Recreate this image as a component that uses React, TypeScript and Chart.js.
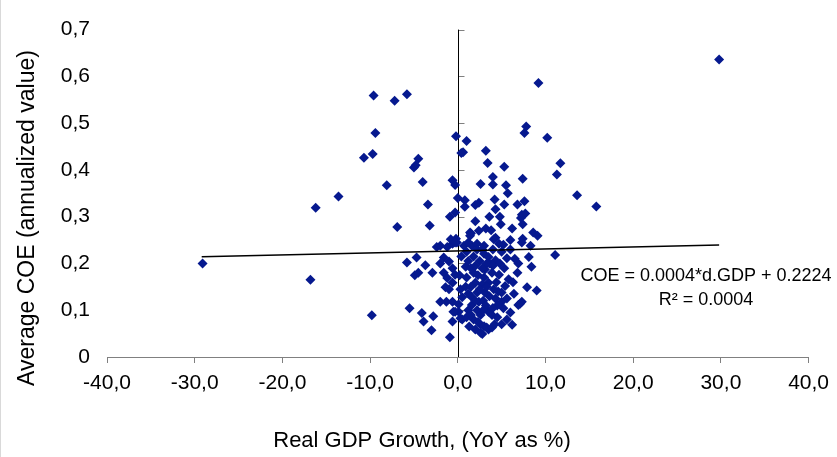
import React, { useEffect, useRef } from 'react';
import { Chart, registerables } from 'chart.js';

Chart.register(...registerables);

// ---- Data ----
const X_TICK_LABELS = ['-40,0', '-30,0', '-20,0', '-10,0', '0,0', '10,0', '20,0', '30,0', '40,0'];
const Y_TICK_LABELS = ['0', '0,1', '0,2', '0,3', '0,4', '0,5', '0,6', '0,7'];

const X_TITLE = 'Real GDP Growth, (YoY as %)';
const Y_TITLE = 'Average COE (annualized value)';
const EQUATION_LINES = ['COE = 0.0004*d.GDP + 0.2224', 'R² = 0.0004'];

// [real GDP growth %, average COE]
const highCoeObs: [number, number][] = [
  [-29.1, 0.200], [-16.8, 0.165], [-16.2, 0.319], [-13.6, 0.343], [-10.7, 0.426], [-9.7, 0.434],
  [-9.6, 0.559], [-9.4, 0.479], [-9.8, 0.089], [-7.2, 0.548], [-5.8, 0.562], [-8.1, 0.367],
  [-6.9, 0.278], [-4.5, 0.424], [-5.0, 0.405], [-4.8, 0.410], [-4.0, 0.374], [-3.4, 0.326],
  [-3.2, 0.281], [-0.2, 0.472], [1.0, 0.462], [0.4, 0.436], [0.6, 0.438], [-0.6, 0.378],
  [-0.3, 0.368], [0.0, 0.340], [0.8, 0.335], [0.8, 0.321], [2.0, 0.325], [2.4, 0.330],
  [2.6, 0.370], [-0.9, 0.300], [-0.3, 0.309], [1.4, 0.266], [-0.2, 0.253], [3.2, 0.441],
  [7.6, 0.479], [7.8, 0.493], [10.2, 0.469], [9.2, 0.586], [29.8, 0.636], [3.4, 0.415],
  [5.3, 0.407], [11.7, 0.414], [11.3, 0.390], [4.0, 0.385], [4.0, 0.369], [5.5, 0.367],
  [7.4, 0.381], [5.7, 0.350], [13.6, 0.346], [15.8, 0.322], [4.2, 0.337], [4.3, 0.316],
  [5.3, 0.326], [6.8, 0.326], [7.6, 0.333], [4.8, 0.300], [4.9, 0.284], [6.2, 0.275],
  [7.3, 0.304], [7.7, 0.307], [7.4, 0.284], [3.2, 0.275], [3.8, 0.271], [1.5, 0.264],
  [8.6, 0.266], [9.1, 0.259], [7.2, 0.297], [7.4, 0.253], [4.3, 0.255],
];

const coreObs: [number, number][] = [
  [-2.4, 0.235], [-1.2, 0.235], [-0.6, 0.242], [-0.1, 0.245], [1.4, 0.259], [0.7, 0.238],
  [1.6, 0.238], [2.2, 0.242], [-5.8, 0.202], [-4.7, 0.213], [-3.7, 0.196], [-4.9, 0.175],
  [-4.5, 0.180], [-2.0, 0.200], [-1.6, 0.213], [-1.0, 0.204], [-0.6, 0.190], [0.9, 0.193],
  [-1.6, 0.180], [-1.2, 0.169], [-0.3, 0.176], [-0.6, 0.159], [-1.4, 0.149], [-1.0, 0.145],
  [0.3, 0.145], [0.5, 0.128], [1.8, 0.180], [2.0, 0.159], [2.2, 0.138], [2.4, 0.118],
  [-2.0, 0.118], [-1.3, 0.118], [-0.6, 0.118], [0.1, 0.097], [-0.3, 0.097], [-5.5, 0.104],
  [-4.1, 0.094], [-2.8, 0.087], [-3.9, 0.076], [-0.6, 0.076], [0.5, 0.080], [-3.0, 0.057],
  [-0.9, 0.042], [2.0, 0.059], [2.6, 0.069], [2.8, 0.049], [1.6, 0.111], [2.2, 0.100],
  [4.1, 0.252], [7.3, 0.245], [8.3, 0.238], [11.1, 0.218], [5.6, 0.211], [6.9, 0.200],
  [8.1, 0.214], [8.4, 0.193], [3.0, 0.221], [3.5, 0.214], [4.3, 0.207], [4.8, 0.200],
  [3.1, 0.187], [3.9, 0.180], [4.7, 0.176], [5.8, 0.166], [5.4, 0.152], [5.0, 0.138],
  [7.9, 0.149], [9.0, 0.142], [6.4, 0.135], [7.1, 0.114], [3.5, 0.159], [4.1, 0.145],
  [3.1, 0.138], [4.3, 0.125], [5.0, 0.118], [5.2, 0.104], [3.5, 0.097], [3.9, 0.090],
  [5.6, 0.080], [6.2, 0.069], [3.0, 0.066], [3.5, 0.059], [2.6, 0.052], [7.3, 0.118],
  [6.9, 0.111], [3.3, 0.063], [3.9, 0.063], [-0.8, 0.252], [-0.3, 0.245], [4.7, 0.242],
  [3.0, 0.238], [-2.0, 0.238], [-2.9, 0.180], [0.1, 0.113], [-0.5, 0.097], [0.3, 0.083],
];

const denseObs: [number, number][] = [
  [1.0, 0.225], [1.8, 0.215], [2.5, 0.205], [1.2, 0.205], [2.8, 0.190], [1.5, 0.190],
  [2.3, 0.175], [3.0, 0.170], [1.0, 0.170], [1.5, 0.150], [2.8, 0.155], [3.6, 0.130],
  [2.9, 0.120], [1.5, 0.130], [1.2, 0.100], [2.6, 0.090], [1.8, 0.080], [4.5, 0.110],
  [4.0, 0.230], [5.0, 0.225], [2.2, 0.230], [3.6, 0.200], [4.4, 0.160], [1.0, 0.085],
  [6.0, 0.095], [6.8, 0.180], [6.0, 0.230], [0.4, 0.215], [0.2, 0.175], [2.4, 0.270],
  [2.0, 0.290], [3.6, 0.300], [6.0, 0.250], [1.2, 0.245], [2.8, 0.230], [3.3, 0.200],
  [4.0, 0.195], [5.3, 0.190], [2.0, 0.195], [0.9, 0.150], [1.2, 0.135], [2.5, 0.145],
  [3.3, 0.150], [4.6, 0.140], [5.6, 0.125], [2.0, 0.120], [3.2, 0.110], [4.0, 0.105],
  [2.9, 0.100], [1.5, 0.090], [2.3, 0.075], [4.5, 0.085], [5.0, 0.070], [4.2, 0.070],
  [1.3, 0.065], [6.5, 0.210], [5.2, 0.240], [6.3, 0.160],
];

const trendGdp = [-29.2, 29.8];
const trendCoe = [0.2145, 0.2395];

// ---- Styling ----
const FONT = "Tahoma, 'Liberation Sans', Arial, sans-serif";
const POINT_COLOR = '#06198f';
const AXIS_GRAY = '#808080';

const excelAxesPlugin = {
  id: 'excelAxes',
  beforeDatasetsDraw(chart: any) {
    const { ctx, scales } = chart;
    const xs = scales.x;
    const ys = scales.y;
    const x0 = Math.round(xs.getPixelForValue(0)) + 0.5;
    ctx.save();
    ctx.lineWidth = 1;
    ctx.strokeStyle = AXIS_GRAY;
    ctx.beginPath();
    ys.ticks.forEach((t: any) => {
      const py = Math.round(ys.getPixelForValue(t.value)) + 0.5;
      ctx.moveTo(x0, py);
      ctx.lineTo(x0 + 6, py);
    });
    ctx.stroke();
    ctx.strokeStyle = '#000000';
    ctx.beginPath();
    ctx.moveTo(x0, ys.top);
    ctx.lineTo(x0, ys.bottom);
    ctx.stroke();
    ctx.restore();
  },
  afterDraw(chart: any) {
    const { ctx, scales } = chart;
    const xs = scales.x;
    const ys = scales.y;
    ctx.save();
    ctx.fillStyle = '#000000';
    ctx.textAlign = 'center';
    ctx.textBaseline = 'middle';
    // trendline equation
    ctx.font = `18px ${FONT}`;
    const cx = xs.getPixelForValue(28.3);
    ctx.fillText(EQUATION_LINES[0], cx, ys.getPixelForValue(0.174));
    ctx.fillText(EQUATION_LINES[1], cx, ys.getPixelForValue(0.122));
    // axis titles (Excel places them off-centre)
    ctx.font = `22px ${FONT}`;
    ctx.fillText(X_TITLE, 422, 441);
    ctx.save();
    ctx.translate(28, 218);
    ctx.rotate(-Math.PI / 2);
    ctx.font = `23px ${FONT}`;
    ctx.fillText(Y_TITLE, 0, 0);
    ctx.restore();
    // chart-area frame edge
    ctx.fillStyle = '#d9d9d9';
    ctx.fillRect(0, 0, 1, chart.height);
    ctx.restore();
  },
};

const toPoints = (arr: [number, number][]) => arr.map(([x, y]) => ({ x, y }));

export default function App() {
  const canvasRef = useRef<HTMLCanvasElement | null>(null);

  useEffect(() => {
    if (!canvasRef.current) return;
    const chart = new Chart(canvasRef.current, {
      type: 'scatter',
      data: {
        datasets: [
          {
            type: 'line',
            label: 'Trend',
            data: trendGdp.map((x, i) => ({ x, y: trendCoe[i] })),
            borderColor: '#000000',
            borderWidth: 1.5,
            pointRadius: 0,
            fill: false,
          } as any,
          {
            label: 'COE',
            data: [...toPoints(highCoeObs), ...toPoints(coreObs), ...toPoints(denseObs)],
            pointStyle: 'rectRot',
            pointRadius: 5,
            pointHoverRadius: 5,
            backgroundColor: POINT_COLOR,
            borderColor: POINT_COLOR,
            borderWidth: 0,
          },
        ],
      },
      options: {
        animation: false,
        responsive: false,
        devicePixelRatio: 1,
        layout: { padding: { left: 0, right: 26, top: 17, bottom: 0 } },
        plugins: {
          legend: { display: false },
          tooltip: { enabled: false },
        },
        scales: {
          x: {
            type: 'linear',
            min: -40,
            max: 40,
            afterFit: (s: any) => { s.height = 100; },
            ticks: {
              stepSize: 10,
              padding: 8,
              color: '#000000',
              font: { family: FONT, size: 21 },
              maxRotation: 0,
              callback: (_v: any, i: number) => X_TICK_LABELS[i],
            },
            grid: {
              drawOnChartArea: false,
              drawTicks: true,
              tickLength: 6,
              color: AXIS_GRAY,
            },
            border: { display: true, color: AXIS_GRAY, width: 1 },
            title: { display: false },
          },
          y: {
            type: 'linear',
            min: 0,
            max: 0.7,
            afterFit: (s: any) => { s.width = 107; },
            ticks: {
              stepSize: 0.1,
              padding: 17,
              color: '#000000',
              font: { family: FONT, size: 21 },
              callback: (_v: any, i: number) => Y_TICK_LABELS[i],
            },
            grid: { display: false, drawTicks: false },
            border: { display: false },
            title: { display: false },
          },
        },
      },
      plugins: [excelAxesPlugin],
    });
    return () => chart.destroy();
  }, []);

  return (
    <div style={{ position: 'fixed', left: 0, top: 0, width: 837, height: 457, background: '#ffffff' }}>
      <canvas ref={canvasRef} width={837} height={457} />
    </div>
  );
}
